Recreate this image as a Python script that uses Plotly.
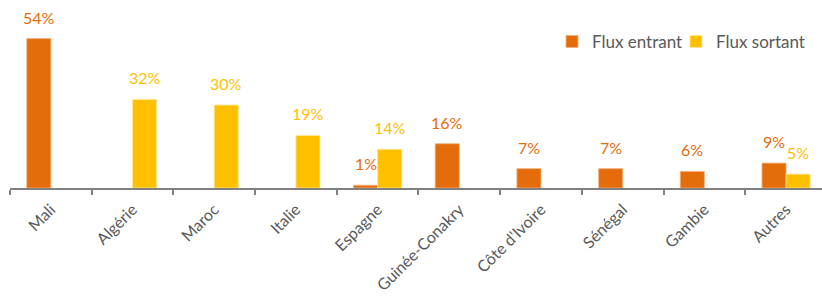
import plotly.graph_objects as go

categories = ["Mali", "Algérie", "Maroc", "Italie", "Espagne", "Guinée-Conakry",
              "Côte d'Ivoire", "Sénégal", "Gambie", "Autres"]
flux_entrant = [54, None, None, None, 1, 16, 7, 7, 6, 9]
flux_sortant = [None, 32, 30, 19, 14, None, None, None, None, 5]
y_max = 60

ORANGE = "#E46C0A"
YELLOW = "#FFC000"
GRAY = "#595959"
FONT = "Lato, 'Open Sans', sans-serif"

fig = go.Figure()
fig.add_trace(go.Bar(name="Flux entrant", x=categories, y=flux_entrant, legend="legend",
                     marker=dict(color=ORANGE, line=dict(color="#F4B183", width=0.8))))
fig.add_trace(go.Bar(name="Flux sortant", x=categories, y=flux_sortant, legend="legend2",
                     marker=dict(color=YELLOW, line=dict(color="#FFE699", width=0.8))))

for series, color, shift in [(flux_entrant, ORANGE, -12), (flux_sortant, YELLOW, 12)]:
    for cat, v in zip(categories, series):
        if v is None:
            continue
        fig.add_annotation(x=cat, y=v, text=f"{v}%", showarrow=False,
                           xshift=shift, yshift=10, yanchor="bottom",
                           font=dict(family=FONT, size=16, color=color))

legend_style = dict(orientation="h", xanchor="left", y=0.88, yanchor="middle",
                    font=dict(family=FONT, size=17, color=GRAY),
                    itemwidth=30, bgcolor="rgba(0,0,0,0)")

fig.update_layout(
    width=822, height=296,
    margin=dict(l=10, r=0, t=22, b=108, autoexpand=False),
    paper_bgcolor="white", plot_bgcolor="white",
    barmode="group", bargap=0.41, bargroupgap=0,
    font=dict(family=FONT, color=GRAY, size=16),
    legend=dict(x=0.6675, **legend_style),
    legend2=dict(x=0.8202, **legend_style),
    showlegend=True,
)
fig.update_xaxes(type="category", range=[-0.5, 9.44], automargin=False,
                 tickangle=-45, showline=True, linecolor="#808080",
                 linewidth=2, ticks="outside", tickson="boundaries", ticklen=5,
                 tickcolor="#808080", tickwidth=1.5, showgrid=False,
                 ticklabelstandoff=4,
                 tickfont=dict(family=FONT, size=16, color=GRAY))
fig.update_yaxes(range=[0, y_max], visible=False, showgrid=False, zeroline=False)

fig.write_html("out.html", config={"displayModeBar": False},
               post_script="document.body.style.margin='0';document.body.style.overflow='hidden';")
